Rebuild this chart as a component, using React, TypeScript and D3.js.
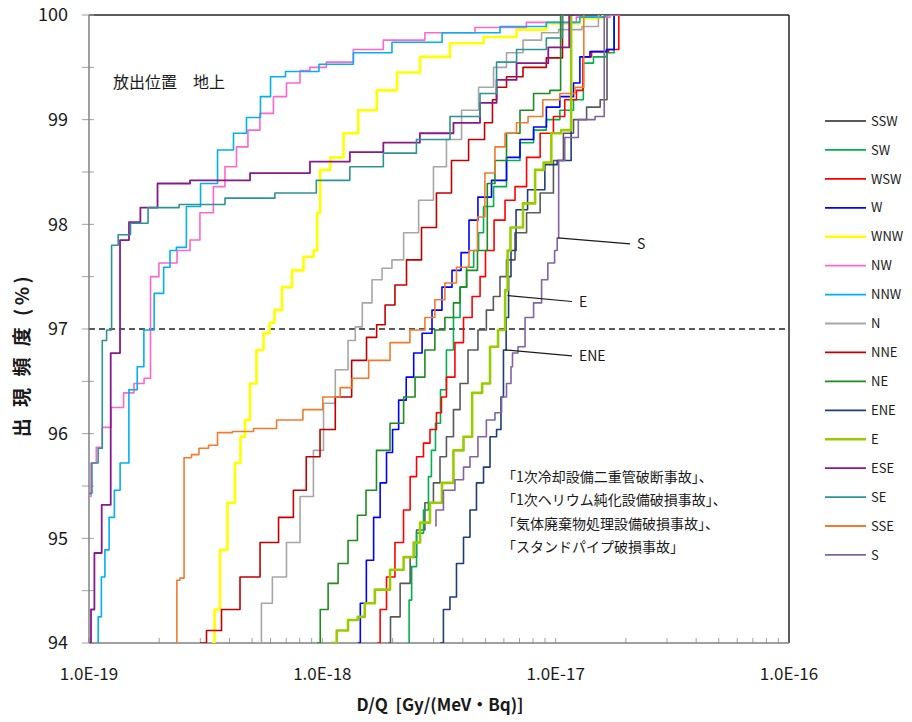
import React, { useEffect, useRef } from 'react';
import * as d3 from 'd3';

// direction names, legend order
const directions = ['SSW', 'SW', 'WSW', 'W', 'WNW', 'NW', 'NNW', 'N', 'NNE', 'NE', 'ENE', 'E', 'ESE', 'SE', 'SSE', 'S'];
const lineColors = ['#595959', '#00b050', '#ff0000', '#0000ff', '#ffff00', '#ff66cc', '#00b0f0', '#a6a6a6',
  '#c00000', '#1e8c1e', '#1f3d7a', '#99cc00', '#861a8c', '#2e9393', '#f07b2e', '#8064a2'];
const lineWidths = [1.6, 1.6, 1.6, 1.6, 2.6, 1.6, 1.6, 1.6, 1.6, 1.6, 1.6, 2.6, 1.8, 1.6, 1.6, 1.6];

// [D/Q (Gy/(MeV·Bq)), cumulative frequency (%)]
const ssw = [[1.91e-18, 94.0], [2.01e-18, 94.25], [2.31e-18, 94.57], [2.45e-18, 94.82], [2.62e-18, 95.08], [2.89e-18, 95.34], [3.1e-18, 95.53], [3.29e-18, 95.78], [3.52e-18, 95.97], [3.78e-18, 96.23], [4.01e-18, 96.48], [4.42e-18, 96.8], [4.88e-18, 96.99], [5.22e-18, 97.18], [5.6e-18, 97.31], [5.95e-18, 97.5], [6.37e-18, 97.66], [7.04e-18, 97.92], [8.0e-18, 98.11], [9.2e-18, 98.3], [1.04e-17, 98.61], [1.12e-17, 98.87], [1.27e-17, 99.0], [1.45e-17, 99.12], [1.66e-17, 99.19], [1.66e-17, 100]];
const sw = [[2.33e-18, 94.0], [2.38e-18, 94.41], [2.45e-18, 94.73], [2.62e-18, 95.05], [2.81e-18, 95.27], [2.89e-18, 95.59], [2.98e-18, 95.84], [3.13e-18, 96.1], [3.29e-18, 96.42], [3.52e-18, 96.8], [3.78e-18, 97.11], [4.01e-18, 97.4], [4.3e-18, 97.59], [4.61e-18, 97.75], [4.74e-18, 97.92], [5.08e-18, 98.17], [5.78e-18, 98.36], [6.56e-18, 98.61], [7.54e-18, 98.78], [8.58e-18, 98.9], [9.7e-18, 99.0], [1.12e-17, 99.09], [1.27e-17, 99.19], [1.36e-17, 99.54], [1.55e-17, 99.6], [1.76e-17, 99.64], [1.8e-17, 100]];
const wsw = [[1.72e-18, 94.0], [1.82e-18, 94.32], [1.95e-18, 94.63], [2.15e-18, 94.96], [2.31e-18, 95.27], [2.45e-18, 95.59], [2.62e-18, 95.78], [2.81e-18, 95.91], [2.98e-18, 96.04], [3.19e-18, 96.2], [3.29e-18, 96.35], [3.52e-18, 96.54], [3.89e-18, 96.87], [4.17e-18, 97.11], [4.61e-18, 97.31], [4.88e-18, 97.5], [5.13e-18, 97.75], [5.78e-18, 98.04], [6.37e-18, 98.23], [7.04e-18, 98.36], [8.0e-18, 98.64], [9.2e-18, 98.87], [1.04e-17, 99.03], [1.15e-17, 99.19], [1.31e-17, 99.28], [1.31e-17, 99.6], [1.55e-17, 99.65], [1.83e-17, 99.67], [1.9e-17, 100]];
const w = [[1.42e-18, 94.0], [1.49e-18, 94.38], [1.6e-18, 94.79], [1.72e-18, 95.2], [1.82e-18, 95.53], [1.95e-18, 95.82], [2.05e-18, 96.04], [2.2e-18, 96.32], [2.38e-18, 96.54], [2.55e-18, 96.77], [2.81e-18, 96.96], [3.1e-18, 97.18], [3.42e-18, 97.4], [3.78e-18, 97.56], [4.09e-18, 97.73], [4.42e-18, 98.04], [4.88e-18, 98.26], [5.78e-18, 98.42], [6.56e-18, 98.64], [7.54e-18, 98.81], [8.58e-18, 98.93], [9.7e-18, 99.12], [1.12e-17, 99.22], [1.27e-17, 99.35], [1.27e-17, 99.6], [1.55e-17, 99.65], [1.76e-17, 99.67], [1.8e-17, 100]];
const wnw = [[3.37e-19, 94.0], [3.54e-19, 94.32], [3.75e-19, 94.89], [4.1e-19, 95.34], [4.35e-19, 95.72], [4.57e-19, 95.97], [4.76e-19, 96.13], [5.04e-19, 96.48], [5.41e-19, 96.8], [5.79e-19, 96.96], [6.09e-19, 97.06], [6.39e-19, 97.18], [7.06e-19, 97.4], [7.79e-19, 97.56], [8.85e-19, 97.69], [9.5e-19, 97.75], [9.5e-19, 98.11], [1.01e-18, 98.52], [1.16e-18, 98.64], [1.31e-18, 98.87], [1.55e-18, 99.09], [1.89e-18, 99.28], [2.31e-18, 99.45], [2.98e-18, 99.6], [4.17e-18, 99.73], [5.78e-18, 99.79], [8.0e-18, 99.86], [1.04e-17, 99.92], [1.55e-17, 99.97], [1.63e-17, 100]];
const nw = [[1.0e-19, 95.4], [1.04e-19, 95.72], [1.11e-19, 95.87], [1.17e-19, 96.06], [1.32e-19, 96.25], [1.5e-19, 96.39], [1.62e-19, 96.48], [1.83e-19, 96.53], [1.84e-19, 97.5], [2.16e-19, 97.63], [2.63e-19, 97.75], [2.79e-19, 97.85], [3.2e-19, 98.11], [3.64e-19, 98.36], [4.02e-19, 98.55], [4.57e-19, 98.74], [5.04e-19, 98.9], [5.79e-19, 99.06], [6.58e-19, 99.22], [7.49e-19, 99.35], [8.6e-19, 99.47], [9.1e-19, 99.5], [1.19e-18, 99.55], [1.55e-18, 99.67], [2.15e-18, 99.76], [3.52e-18, 99.83], [5.78e-18, 99.88], [9.7e-18, 99.93], [1.55e-17, 99.98], [1.89e-17, 100]];
const nnw = [[1.08e-19, 94.0], [1.11e-19, 94.25], [1.15e-19, 94.63], [1.19e-19, 94.89], [1.25e-19, 95.2], [1.32e-19, 95.46], [1.4e-19, 95.72], [1.57e-19, 96.42], [1.65e-19, 96.64], [1.79e-19, 96.99], [2.02e-19, 97.34], [2.16e-19, 97.59], [2.29e-19, 97.75], [2.45e-19, 97.78], [2.79e-19, 98.17], [3.24e-19, 98.39], [3.9e-19, 98.71], [4.44e-19, 98.87], [5.04e-19, 99.02], [5.85e-19, 99.22], [6.15e-19, 99.41], [7.86e-19, 99.46], [1.19e-18, 99.53], [1.55e-18, 99.64], [2.55e-18, 99.74], [4.17e-18, 99.83], [8.0e-18, 99.89], [1.04e-17, 99.93], [1.55e-17, 99.98], [1.71e-17, 100]];
const n = [[5.3e-19, 94.0], [5.67e-19, 94.38], [6.58e-19, 94.63], [7.49e-19, 94.96], [8.6e-19, 95.4], [9.75e-19, 95.84], [1.05e-18, 96.29], [1.23e-18, 96.61], [1.35e-18, 96.89], [1.42e-18, 97.02], [1.55e-18, 97.25], [1.72e-18, 97.47], [1.89e-18, 97.58], [2.09e-18, 97.66], [2.38e-18, 97.92], [2.81e-18, 98.23], [3.19e-18, 98.55], [3.63e-18, 98.81], [4.3e-18, 99.09], [5.08e-18, 99.31], [5.78e-18, 99.5], [6.56e-18, 99.64], [8.0e-18, 99.76], [9.46e-18, 99.83], [1.12e-17, 99.86], [1.5e-17, 99.89], [1.55e-17, 100]];
const nne = [[2.99e-19, 94.0], [3.4e-19, 94.12], [4.02e-19, 94.32], [4.9e-19, 94.63], [5.97e-19, 94.96], [7.06e-19, 95.2], [8.0e-19, 95.46], [9.1e-19, 95.78], [1.05e-18, 96.04], [1.23e-18, 96.35], [1.45e-18, 96.7], [1.65e-18, 96.92], [1.77e-18, 97.04], [1.95e-18, 97.23], [2.15e-18, 97.42], [2.45e-18, 97.66], [2.89e-18, 97.97], [3.29e-18, 98.3], [3.89e-18, 98.61], [4.61e-18, 98.81], [5.33e-18, 98.97], [5.39e-18, 99.19], [5.78e-18, 99.31], [6.56e-18, 99.41], [8.0e-18, 99.5], [1.04e-17, 99.59], [1.1e-17, 100]];
const ne = [[9.5e-19, 94.0], [1.01e-18, 94.32], [1.11e-18, 94.57], [1.23e-18, 94.76], [1.35e-18, 94.98], [1.48e-18, 95.22], [1.6e-18, 95.46], [1.82e-18, 95.84], [2.09e-18, 96.1], [2.38e-18, 96.35], [2.62e-18, 96.54], [2.89e-18, 96.8], [3.19e-18, 96.99], [3.52e-18, 97.11], [3.78e-18, 97.25], [4.01e-18, 97.4], [4.3e-18, 97.56], [4.97e-18, 97.75], [5.22e-18, 98.39], [5.78e-18, 98.61], [6.56e-18, 98.87], [7.54e-18, 99.09], [8.58e-18, 99.25], [1.04e-17, 99.28], [1.06e-17, 100]];
const ene = [[3.19e-18, 94.0], [3.42e-18, 94.32], [3.63e-18, 94.44], [3.89e-18, 94.76], [4.17e-18, 95.01], [4.42e-18, 95.27], [4.74e-18, 95.53], [5.08e-18, 95.68], [5.39e-18, 95.97], [5.78e-18, 96.04], [5.88e-18, 96.35], [6.07e-18, 96.8], [6.2e-18, 97.11], [6.37e-18, 97.5], [6.5e-18, 97.75], [7.04e-18, 98.14], [8.16e-18, 98.33], [9.9e-18, 98.57], [1.04e-17, 98.61], [1.15e-17, 98.61], [1.18e-17, 100]];
const e = [[1.08e-18, 94.0], [1.23e-18, 94.12], [1.35e-18, 94.22], [1.49e-18, 94.25], [1.55e-18, 94.38], [1.82e-18, 94.51], [2.09e-18, 94.7], [2.38e-18, 94.82], [2.55e-18, 94.96], [2.7e-18, 95.15], [3.1e-18, 95.34], [3.42e-18, 95.53], [3.89e-18, 95.84], [4.17e-18, 95.97], [4.61e-18, 96.39], [5.08e-18, 96.48], [5.39e-18, 96.83], [5.95e-18, 96.99], [6.2e-18, 97.37], [6.25e-18, 97.75], [6.56e-18, 97.97], [8.0e-18, 98.2], [8.33e-18, 98.52], [9.46e-18, 98.59], [9.7e-18, 98.87], [1.15e-17, 98.9], [1.18e-17, 100]];
const ese = [[1.01e-19, 94.0], [1.03e-19, 94.32], [1.08e-19, 94.86], [1.19e-19, 95.32], [1.29e-19, 96.77], [1.43e-19, 97.85], [1.54e-19, 98.02], [1.79e-19, 98.16], [2.16e-19, 98.39], [3.4e-19, 98.42], [7.06e-19, 98.49], [1.11e-18, 98.6], [1.55e-18, 98.69], [2.15e-18, 98.78], [3.19e-18, 98.87], [4.17e-18, 98.97], [5.39e-18, 99.16], [5.78e-18, 99.38], [8.0e-18, 99.54], [1.08e-17, 99.69], [1.21e-17, 100]];
const se = [[1.0e-19, 95.43], [1.06e-19, 95.72], [1.13e-19, 95.86], [1.15e-19, 96.89], [1.23e-19, 96.99], [1.27e-19, 97.8], [1.4e-19, 97.9], [1.62e-19, 98.01], [1.98e-19, 98.16], [2.99e-19, 98.19], [4.9e-19, 98.25], [8.0e-19, 98.3], [1.11e-18, 98.42], [1.55e-18, 98.55], [2.15e-18, 98.68], [2.98e-18, 98.81], [4.17e-18, 99.03], [5.39e-18, 99.25], [5.78e-18, 99.55], [8.0e-18, 99.67], [1.04e-17, 99.78], [1.1e-17, 100]];
const sse = [[2.38e-19, 94.0], [2.38e-19, 94.6], [2.53e-19, 94.62], [2.58e-19, 95.77], [2.93e-19, 95.8], [2.99e-19, 95.86], [3.54e-19, 95.89], [3.57e-19, 96.01], [4.76e-19, 96.02], [5.41e-19, 96.05], [7.49e-19, 96.13], [9.1e-19, 96.23], [1.11e-18, 96.35], [1.28e-18, 96.44], [1.41e-18, 96.53], [1.77e-18, 96.7], [2.15e-18, 96.87], [2.62e-18, 96.99], [2.89e-18, 97.11], [3.19e-18, 97.28], [3.52e-18, 97.44], [4.01e-18, 97.59], [4.51e-18, 97.75], [4.74e-18, 98.07], [5.22e-18, 98.49], [5.78e-18, 98.74], [6.37e-18, 98.87], [7.25e-18, 98.97], [8.0e-18, 99.03], [9.7e-18, 99.19], [1.12e-17, 99.25], [1.31e-17, 99.31], [1.33e-17, 100]];
const s = [[3.04e-18, 95.12], [3.1e-18, 95.27], [3.52e-18, 95.46], [3.89e-18, 95.56], [4.17e-18, 95.68], [4.42e-18, 95.78], [4.88e-18, 95.97], [5.22e-18, 96.13], [5.78e-18, 96.2], [5.95e-18, 96.35], [6.37e-18, 96.48], [6.5e-18, 96.64], [6.56e-18, 96.77], [7.25e-18, 96.83], [7.54e-18, 97.11], [8.58e-18, 97.25], [8.83e-18, 97.47], [9.7e-18, 97.63], [1.01e-17, 97.75], [1.02e-17, 97.87], [1.04e-17, 98.61], [1.15e-17, 98.83], [1.36e-17, 99.0], [1.6e-17, 99.03], [1.63e-17, 100]];

const allSeries = [ssw, sw, wsw, w, wnw, nw, nnw, n, nne, ne, ene, e, ese, se, sse, s];

const xTickValues = [1e-19, 1e-18, 1e-17, 1e-16];
const xTickLabels = ['1.0E-19', '1.0E-18', '1.0E-17', '1.0E-16'];
const yTickValues = [94, 95, 96, 97, 98, 99, 100];
const thresholdPct = 97;

const accidentLines = [
  '「1次冷却設備二重管破断事故」、',
  '「1次ヘリウム純化設備破損事故」、',
  '「気体廃棄物処理設備破損事故」、',
  '「スタンドパイプ破損事故」',
];
// callout labels: [direction, D/Q where the leader touches, % at that point]
const callouts = [['S', 1.02e-17, 97.87], ['E', 6.22e-18, 97.32], ['ENE', 6.07e-18, 96.8]];

const FONT = '"Noto Sans CJK JP", "Noto Sans", sans-serif';

const App = () => {
  const svgRef = useRef(null);

  useEffect(() => {
    document.body.style.margin = '0';
    const svg = d3.select(svgRef.current);
    svg.selectAll('*').remove();

    const left = 89, right = 789, top = 15, bottom = 643;

    const x = d3.scaleLog().domain([1e-19, 1e-16]).range([left, right]);
    const y = d3.scaleLinear().domain([94, 100]).range([bottom, top]);

    svg.append('defs').append('clipPath').attr('id', 'plot-clip')
      .append('rect')
      .attr('x', left).attr('y', top)
      .attr('width', right - left).attr('height', bottom - top);

    // plot frame: dark top/right, gray axes
    svg.append('line').attr('x1', left).attr('x2', right).attr('y1', top).attr('y2', top)
      .attr('stroke', '#262626').attr('stroke-width', 1.5);
    svg.append('line').attr('x1', right).attr('x2', right).attr('y1', top).attr('y2', bottom)
      .attr('stroke', '#262626').attr('stroke-width', 1.5);

    // x minor/major ticks, pointing inward
    const xTicks = [];
    for (let dec = -19; dec < -16; dec++) {
      for (let m = 1; m <= 9; m++) xTicks.push(m * Math.pow(10, dec));
    }
    svg.append('g').selectAll('line').data(xTicks).enter().append('line')
      .attr('x1', d => x(d)).attr('x2', d => x(d))
      .attr('y1', bottom).attr('y2', bottom - 5)
      .attr('stroke', '#a0a0a0').attr('stroke-width', 1);

    // y ticks every 0.5, crossing the axis
    const yTicks = d3.range(94, 100.01, 0.5);
    svg.append('g').selectAll('line').data(yTicks).enter().append('line')
      .attr('x1', left - 7).attr('x2', left + 5)
      .attr('y1', d => y(d)).attr('y2', d => y(d))
      .attr('stroke', '#a0a0a0').attr('stroke-width', 1);

    svg.append('line').attr('x1', left).attr('x2', right).attr('y1', bottom).attr('y2', bottom)
      .attr('stroke', '#808080').attr('stroke-width', 1.5);
    svg.append('line').attr('x1', left).attr('x2', left).attr('y1', top).attr('y2', bottom)
      .attr('stroke', '#808080').attr('stroke-width', 1.5);

    svg.append('g').selectAll('text').data(yTickValues).enter().append('text')
      .attr('x', 68).attr('y', d => y(d))
      .attr('dy', '0.36em')
      .attr('text-anchor', 'end')
      .style('font-family', FONT).style('font-size', '18px').attr('fill', '#1a1a1a')
      .text(d => d);

    svg.append('g').selectAll('text').data(xTickValues).enter().append('text')
      .attr('x', d => x(d)).attr('y', 680)
      .attr('text-anchor', 'middle')
      .style('font-family', FONT).style('font-size', '17px').attr('fill', '#1a1a1a')
      .text((d, i) => xTickLabels[i]);

    // threshold
    svg.append('line')
      .attr('x1', left).attr('x2', right)
      .attr('y1', y(thresholdPct)).attr('y2', y(thresholdPct))
      .attr('stroke', '#595959').attr('stroke-width', 2).attr('stroke-dasharray', '6,4');

    // cumulative frequency -> staircase
    const line = d3.line().curve(d3.curveStep).x(d => x(d[0])).y(d => y(d[1]));

    const curves = svg.append('g').attr('clip-path', 'url(#plot-clip)');
    allSeries.forEach((data, i) => {
      curves.append('path')
        .attr('d', line(data))
        .attr('fill', 'none')
        .attr('stroke', lineColors[i])
        .attr('stroke-width', lineWidths[i])
        .attr('stroke-linejoin', 'round');
    });

    // callouts with leader lines
    const labelX = { S: 630, E: 572, ENE: 572 };
    callouts.forEach(([name, dq, pct]) => {
      const x0 = x(dq), y0 = y(pct);
      const x1 = labelX[name], y1 = y0 + 6;
      svg.append('line').attr('x1', x0).attr('y1', y0).attr('x2', x1).attr('y2', y1)
        .attr('stroke', '#1a1a1a').attr('stroke-width', 1.2);
      svg.append('text').attr('x', x1 + 7).attr('y', y1).attr('dy', '0.36em')
        .style('font-family', FONT).style('font-size', '14px').attr('fill', '#1a1a1a')
        .text(name);
    });

    svg.append('text').attr('x', 113).attr('y', 82).attr('dy', '0.36em')
      .style('font-family', FONT).style('font-size', '16px').attr('fill', '#1a1a1a')
      .text('放出位置　地上');

    svg.append('g').selectAll('text').data(accidentLines).enter().append('text')
      .attr('x', 502).attr('y', (d, i) => 477 + i * 23.3).attr('dy', '0.36em')
      .style('font-family', FONT).style('font-size', '14px').attr('fill', '#1a1a1a')
      .text(d => d);

    // legend
    const legend = svg.append('g');
    directions.forEach((name, i) => {
      const ly = 121 + i * 28.93;
      legend.append('line').attr('x1', 825).attr('x2', 866).attr('y1', ly).attr('y2', ly)
        .attr('stroke', lineColors[i]).attr('stroke-width', lineWidths[i] > 2 ? 2.5 : 1.8);
      legend.append('text').attr('x', 871).attr('y', ly).attr('dy', '0.36em')
        .style('font-family', FONT).style('font-size', '13px').attr('fill', '#1a1a1a')
        .text(name);
    });

    svg.append('text')
      .attr('transform', `translate(22, ${355}) rotate(-90)`)
      .attr('text-anchor', 'middle').attr('dy', '0.36em')
      .style('font-family', FONT).style('font-size', '19px').style('font-weight', 'bold')
      .style('letter-spacing', '3.5px')
      .attr('fill', '#1a1a1a')
      .text('出 現 頻 度 (%)');

    svg.append('text')
      .attr('x', 440).attr('y', 705).attr('dy', '0.36em')
      .attr('text-anchor', 'middle')
      .style('font-family', FONT).style('font-size', '17px').style('font-weight', 'bold')
      .style('white-space', 'pre')
      .attr('fill', '#1a1a1a')
      .text('D/Q  [Gy/(MeV・Bq)]');
  }, []);

  return (
    <svg ref={svgRef} width={912} height={722} style={{ display: 'block', background: '#fff' }}></svg>
  );
};

export default App;
